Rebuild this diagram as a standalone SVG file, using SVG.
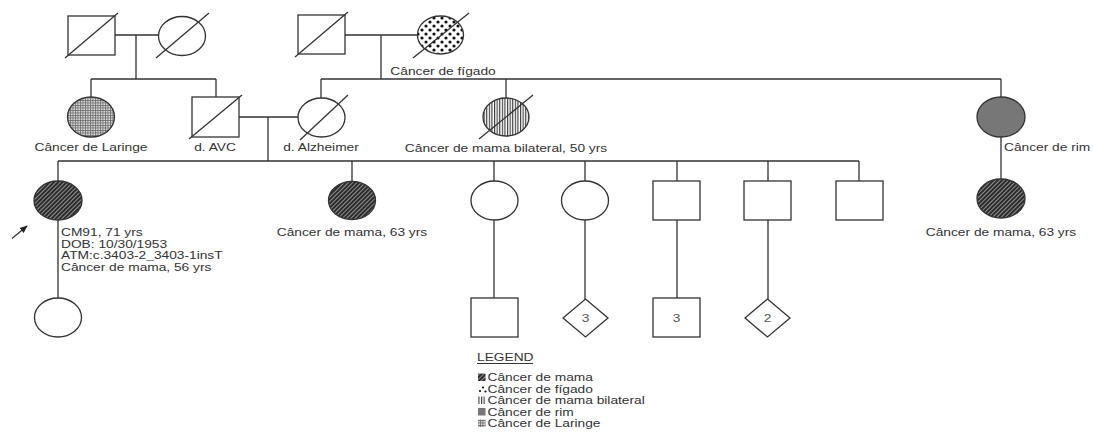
<svg xmlns="http://www.w3.org/2000/svg" width="1093" height="448" viewBox="0 0 1093 448">
<style>
.s{fill:#fff;stroke:#333;stroke-width:1.3}
.ln{stroke:#333;stroke-width:1.3;fill:none}
.t{font-family:"Liberation Sans",Arial,sans-serif;font-size:11px;fill:#333}
.n{font-family:"Liberation Sans",Arial,sans-serif;font-size:11px;fill:#555}
.m{fill:url(#pMama);stroke:#333;stroke-width:1.3}
.f{fill:url(#pFig);stroke:#333;stroke-width:1.3}
.b{fill:url(#pBil);stroke:#333;stroke-width:1.3}
.r{fill:#777;stroke:#333;stroke-width:1.3}
.l{fill:url(#pLar);stroke:#333;stroke-width:1.3}
</style>
<defs>
<pattern id="pMama" width="3" height="3" patternUnits="userSpaceOnUse" patternTransform="rotate(45)">
<rect width="3" height="3" fill="#2b2b2b"/>
<line x1="0.5" y1="0" x2="0.5" y2="3" stroke="#aaa" stroke-width="0.8"/>
</pattern>
<pattern id="pFig" width="8" height="8" patternUnits="userSpaceOnUse">
<rect width="8" height="8" fill="#fff"/>
<circle cx="2" cy="2" r="1.6" fill="#111"/>
<circle cx="6" cy="6" r="1.6" fill="#111"/>
</pattern>
<pattern id="pBil" width="2.6" height="3" patternUnits="userSpaceOnUse">
<rect width="2.6" height="3" fill="#fff"/>
<line x1="0.6" y1="0" x2="0.6" y2="3" stroke="#222" stroke-width="1"/>
</pattern>
<pattern id="pLar" width="2.5" height="2.5" patternUnits="userSpaceOnUse">
<rect width="2.5" height="2.5" fill="#ddd"/>
<path d="M0 0.5H2.5M0.5 0V2.5" stroke="#666" stroke-width="0.8"/>
</pattern>
<marker id="arr" viewBox="0 0 10 10" refX="9" refY="5" markerWidth="6" markerHeight="6" orient="auto">
<path d="M0 1L10 5L0 9z" fill="#222"/>
</marker>
</defs>

<g id="connectors">
<path class="ln" d="M115 35H159M136 35V79M91 79H216M91 79V97M216 79V97"/>
<path class="ln" d="M345 35H417M381 35V79M321 79H1001M321 79V98M506 79V98M1001 79V97M1001 137V179"/>
<path class="ln" d="M239 117H298M268 117V161M58 161H859"/>
<path class="ln" d="M58 161V181M352 161V181M494 161V181M585 161V181M677 161V181M768 161V181M859 161V181"/>
<path class="ln" d="M58 220V298M494 220V298M585 220V299M677 220V298M768 220V299"/>
</g>

<g id="g1-father-left">
<rect class="s" x="68" y="16" width="47" height="39"/>
<line class="ln" x1="65" y1="58" x2="118" y2="13"/>
</g>
<g id="g1-mother-left">
<ellipse class="s" cx="182" cy="36" rx="23.5" ry="19.5"/>
<line class="ln" x1="156" y1="58" x2="209" y2="13"/>
</g>
<g id="g1-father-mid">
<rect class="s" x="298" y="15" width="47" height="39"/>
<line class="ln" x1="295" y1="57" x2="348" y2="12"/>
</g>
<g id="g1-mother-mid">
<ellipse class="f" cx="440.5" cy="35" rx="23" ry="19"/>
<line class="ln" x1="413" y1="58" x2="469" y2="13"/>
<text class="t" text-anchor="middle" transform="matrix(1.25 0 0 1 443 75)">Câncer de fígado</text>
</g>

<g id="g2-laringe">
<ellipse class="l" cx="91" cy="117" rx="23.5" ry="20"/>
<text class="t" text-anchor="middle" transform="matrix(1.25 0 0 1 91 151)">Câncer de Laringe</text>
</g>
<g id="g2-avc">
<rect class="s" x="192" y="97" width="47" height="40"/>
<line class="ln" x1="189" y1="139" x2="242" y2="95"/>
<text class="t" text-anchor="middle" transform="matrix(1.25 0 0 1 215 151)">d. AVC</text>
</g>
<g id="g2-alzheimer">
<ellipse class="s" cx="321.5" cy="117.5" rx="23.5" ry="19.5"/>
<line class="ln" x1="300" y1="140" x2="348" y2="95"/>
<text class="t" text-anchor="middle" transform="matrix(1.25 0 0 1 321 151)">d. Alzheimer</text>
</g>
<g id="g2-bilateral">
<ellipse class="b" cx="506" cy="117" rx="23" ry="19"/>
<line class="ln" x1="479" y1="139" x2="533" y2="95"/>
<text class="t" text-anchor="middle" transform="matrix(1.25 0 0 1 506 152)">Câncer de mama bilateral, 50 yrs</text>
</g>
<g id="g2-rim">
<ellipse class="r" cx="1001" cy="117" rx="24" ry="20"/>
<text class="t" transform="matrix(1.25 0 0 1 1004 151)">Câncer de rim</text>
</g>

<g id="g3-proband">
<ellipse class="m" cx="58" cy="200.5" rx="24" ry="19.5"/>
<line class="ln" x1="12" y1="238.5" x2="27" y2="226" marker-end="url(#arr)"/>
<text class="t" transform="matrix(1.25 0 0 1 61 236)">CM91, 71 yrs</text>
<text class="t" transform="matrix(1.25 0 0 1 61 247.5)">DOB: 10/30/1953</text>
<text class="t" transform="matrix(1.25 0 0 1 61 259)">ATM:c.3403-2_3403-1insT</text>
<text class="t" transform="matrix(1.25 0 0 1 61 270.5)">Câncer de mama, 56 yrs</text>
</g>
<g id="g3-sister">
<ellipse class="m" cx="352" cy="200.5" rx="23.5" ry="19"/>
<text class="t" text-anchor="middle" transform="matrix(1.25 0 0 1 352 236)">Câncer de mama, 63 yrs</text>
</g>
<g id="g3-c1"><ellipse class="s" cx="494.5" cy="200.5" rx="23.5" ry="19.5"/></g>
<g id="g3-c2"><ellipse class="s" cx="585" cy="200.5" rx="23.5" ry="19.5"/></g>
<g id="g3-c3"><rect class="s" x="653" y="181" width="47" height="39"/></g>
<g id="g3-c4"><rect class="s" x="744" y="181" width="47" height="39"/></g>
<g id="g3-c5"><rect class="s" x="836" y="181" width="47" height="39"/></g>
<g id="g3-cousin">
<ellipse class="m" cx="1001" cy="198.5" rx="24" ry="19.5"/>
<text class="t" text-anchor="middle" transform="matrix(1.25 0 0 1 1001 236)">Câncer de mama, 63 yrs</text>
</g>

<g id="g4-daughter"><ellipse class="s" cx="58" cy="317.5" rx="23.5" ry="19.5"/></g>
<g id="g4-son"><rect class="s" x="471" y="298" width="47" height="39"/></g>
<g id="g4-d3">
<polygon class="s" points="585.5,299 608,318 585.5,337 563,318"/>
<text class="n" text-anchor="middle" transform="matrix(1.25 0 0 1 585.5 322)">3</text>
</g>
<g id="g4-s3">
<rect class="s" x="653" y="298" width="47" height="39"/>
<text class="n" text-anchor="middle" transform="matrix(1.25 0 0 1 676.5 322)">3</text>
</g>
<g id="g4-d2">
<polygon class="s" points="767.5,299 790,318 767.5,337 745,318"/>
<text class="n" text-anchor="middle" transform="matrix(1.25 0 0 1 767.5 322)">2</text>
</g>

<g id="legend">
<text class="t" transform="matrix(1.25 0 0 1 477 361)">LEGEND</text>
<line x1="477" y1="363.5" x2="533" y2="363.5" stroke="#333" stroke-width="1"/>
<rect x="478" y="373.5" width="7.5" height="7.5" fill="url(#pMama)"/>
<text class="t" transform="matrix(1.25 0 0 1 487.5 381)">Câncer de mama</text>
<g fill="#111"><circle cx="480" cy="391" r="1.1"/><circle cx="483" cy="387.5" r="1.1"/><circle cx="485.5" cy="391.5" r="1.1"/></g>
<text class="t" transform="matrix(1.25 0 0 1 487.5 392.5)">Câncer de fígado</text>
<rect x="478" y="396.5" width="7.5" height="7.5" fill="url(#pBil)"/>
<text class="t" transform="matrix(1.25 0 0 1 487.5 404)">Câncer de mama bilateral</text>
<rect x="478" y="408" width="7.5" height="7.5" fill="#777"/>
<text class="t" transform="matrix(1.25 0 0 1 487.5 415.5)">Câncer de rim</text>
<rect x="478" y="419.5" width="7.5" height="7.5" fill="url(#pLar)"/>
<text class="t" transform="matrix(1.25 0 0 1 487.5 427)">Câncer de Laringe</text>
</g>
</svg>
